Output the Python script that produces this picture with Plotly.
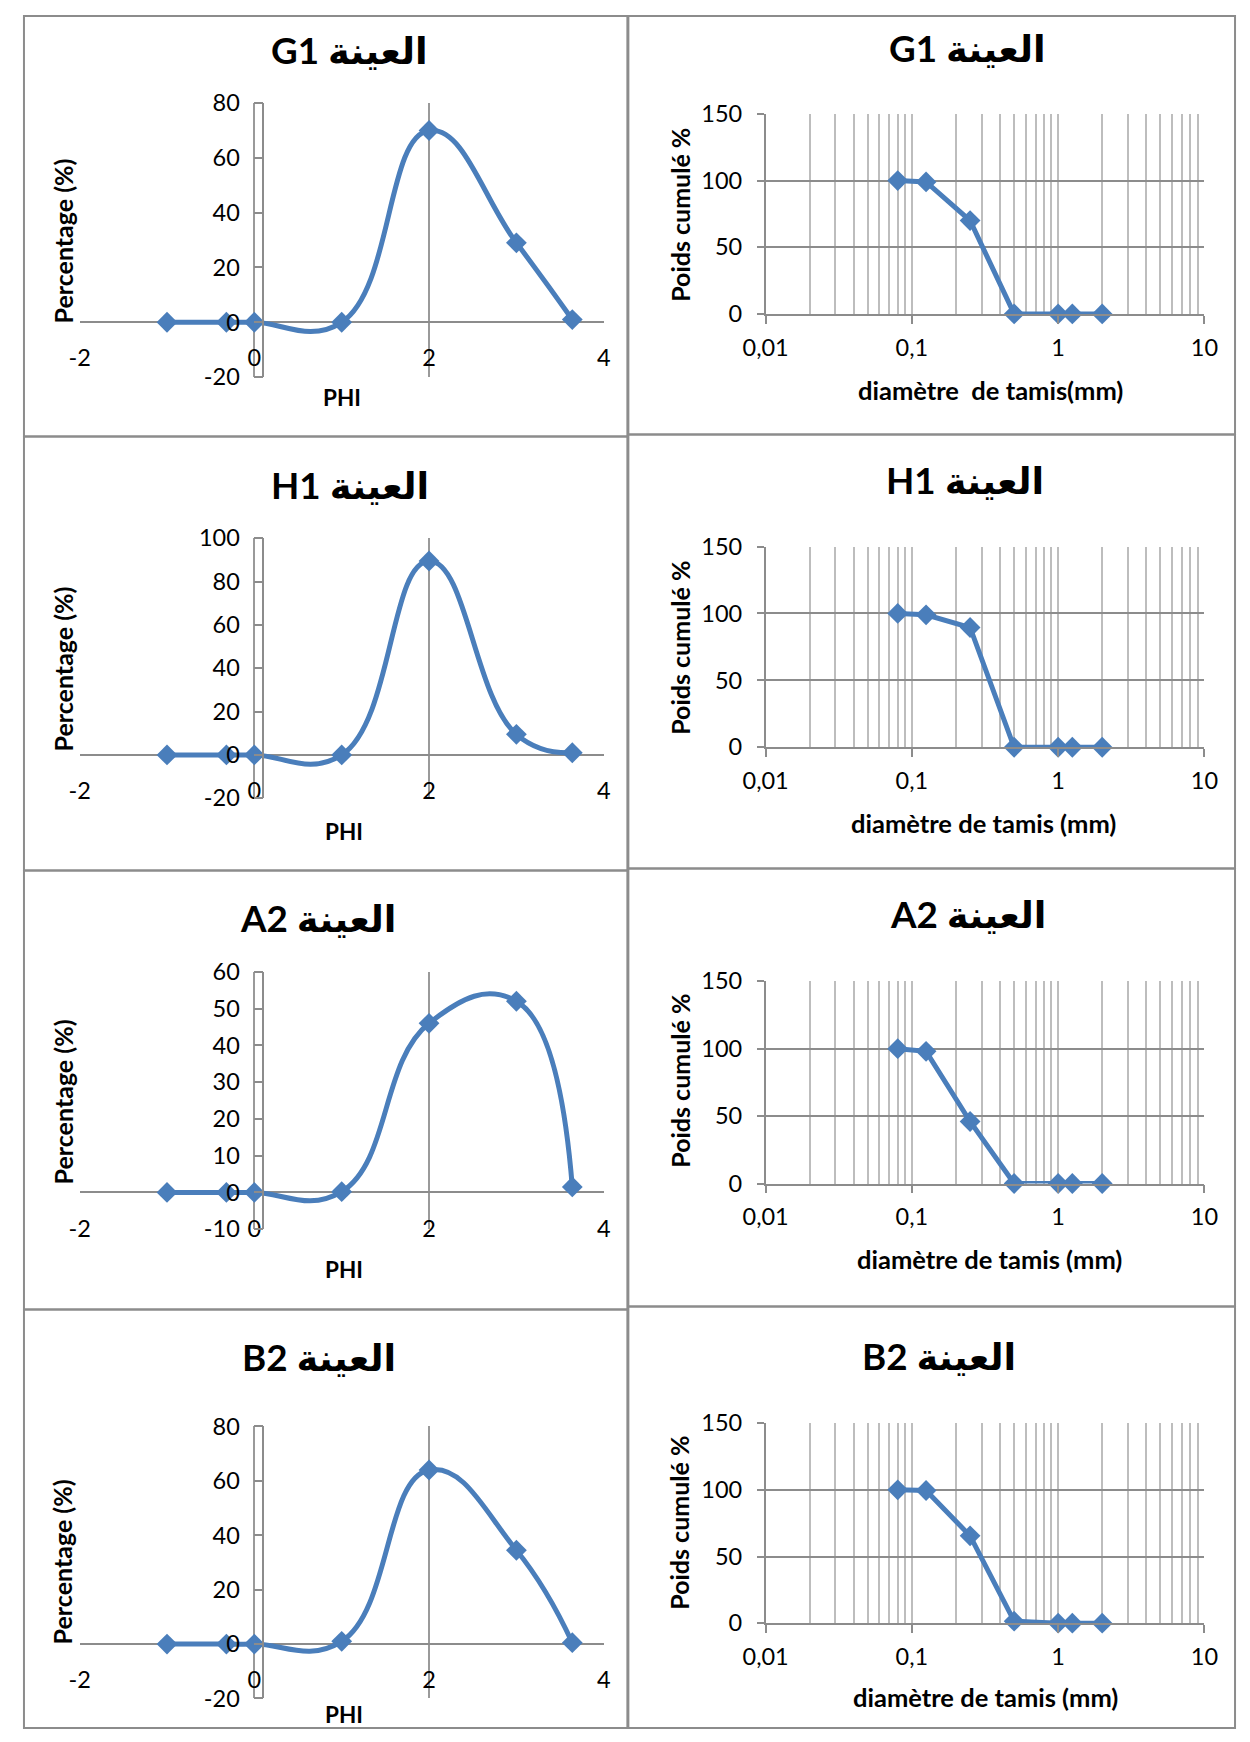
import plotly.graph_objects as go

W, H = 1250, 1742
# observed mapping of the photographed page: photo = A + K * figure pixel
AX, KX = 21.0, 0.973
AY, KY = 14.4, 0.984
FS = 1.0 / ((KX + KY) / 2)

# ---------------- data ----------------
samples = ["G1", "H1", "A2", "B2"]
phi = [-1, -0.32, 0, 1, 2, 3, 3.64]
sieve_mm = [0.08, 0.125, 0.25, 0.5, 1, 1.25, 2]

pct_G1 = [0, 0, 0, 0, 70, 29, 1]
pct_H1 = [0, 0, 0, 0, 89.5, 9.5, 1]
pct_A2 = [0, 0, 0, 0.2, 46, 52, 1.5]
pct_B2 = [0, 0, 0, 1, 64, 34.5, 0.5]

cum_G1 = [100, 99, 70, 0, 0, 0, 0]
cum_H1 = [100, 99, 89.5, 0, 0, 0, 0]
cum_A2 = [100, 98, 46, 0, 0, 0, 0]
cum_B2 = [100, 99.5, 65.5, 1.5, 0, 0, 0]

phi_ticks = [-2, 0, 2, 4]
phi_ticktext = ["-2", "0", "2", "4"]
left_yticks = [[-20, 0, 20, 40, 60, 80],
               [-20, 0, 20, 40, 60, 80, 100],
               [-10, 0, 10, 20, 30, 40, 50, 60],
               [-20, 0, 20, 40, 60, 80]]
left_ytext = [["-20", "0", "20", "40", "60", "80"],
              ["-20", "0", "20", "40", "60", "80", "100"],
              ["-10", "0", "10", "20", "30", "40", "50", "60"],
              ["-20", "0", "20", "40", "60", "80"]]
cum_ticks = [0, 50, 100, 150]
log_ticks = [0.01, 0.1, 1, 10]
log_ticktext = ["0,01", "0,1", "1", "10"]
right_xtitles = ["diamètre  de tamis(mm)", "diamètre de tamis (mm)",
                 "diamètre de tamis (mm)", "diamètre de tamis (mm)"]

pcts = [pct_G1, pct_H1, pct_A2, pct_B2]
cums = [cum_G1, cum_H1, cum_A2, cum_B2]

# ---------------- target geometry (pixels in the picture) ----------------
L_X = (77.8, 603.3)
L_Y = [(102.5, 376.5), (537.7, 797.7), (971.3, 1228.7), (1426.0, 1698.0)]
R_X = (765.6, 1205.6)
R_Y = [(113.3, 313.3), (546.0, 746.7), (980.7, 1183.0), (1422.7, 1622.7)]

title_pos_L = [(348, 49), (349, 484), (317, 917), (318, 1357)]
title_pos_R = [(968, 47), (966, 479), (969, 913), (939, 1356)]
ytitle_L = [(61, 240), (61, 668), (61, 1101), (61, 1561)]
ytitle_R = [(679, 214), (679, 647), (679, 1080), (679, 1522)]
xtitle_L = [(341, 397), (343, 831), (343, 1269), (343, 1714)]
xtitle_R = [(991, 389), (984, 822), (990, 1258), (986, 1697)]

BLUE = "#4A7EBB"
GRID_V = "#BDBDBD"
GRID_H = "#8C8C8C"
AXIS = "#8C8C8C"
FONT = "Lato, 'DejaVu Sans', sans-serif"

def fx(t):
    return (t - AX) / KX

def fy(t):
    return (t - AY) / KY

def px(t):
    return min(1.0, max(0.0, fx(t) / W))

def py(t):
    return min(1.0, max(0.0, 1 - fy(t) / H))

def f(s):
    return round(s * FS, 1)

fig = go.Figure()
layout = dict(width=W, height=H, autosize=False,
              margin=dict(l=0, r=0, t=0, b=0, pad=0),
              paper_bgcolor="white", plot_bgcolor="rgba(0,0,0,0)",
              showlegend=False, font=dict(family=FONT, size=f(23), color="black"))
annotations = []
shapes = []

for i, s in enumerate(samples):
    li = 2 * i + 1
    ri = 2 * i + 2
    ymin, ymax = left_yticks[i][0], left_yticks[i][-1]
    top, bot = L_Y[i]
    y0_t = top + (ymax - 0) / (ymax - ymin) * (bot - top)
    x0_t = L_X[0] + (0 - (-2)) / 6 * (L_X[1] - L_X[0])

    fig.add_trace(go.Scatter(
        x=phi, y=pcts[i], mode="lines+markers",
        line=dict(color=BLUE, width=5, shape="spline", smoothing=1.3),
        marker=dict(symbol="diamond", size=16, color=BLUE),
        xaxis=f"x{li}", yaxis=f"y{li}", cliponaxis=False))

    layout[f"xaxis{li}"] = dict(
        domain=[px(L_X[0]), px(L_X[1])], range=[-2, 4],
        tickvals=phi_ticks, ticktext=phi_ticktext,
        showgrid=True, gridcolor="#9A9A9A", gridwidth=1.5,
        zeroline=False, showline=False, anchor="free", position=py(y0_t),
        ticks="outside", ticklen=15, tickcolor="rgba(0,0,0,0)",
        tickfont=dict(size=f(23)), fixedrange=True)
    layout[f"yaxis{li}"] = dict(
        domain=[py(bot), py(top)], range=[ymin, ymax],
        tickvals=left_yticks[i], ticktext=left_ytext[i],
        showgrid=False, zeroline=True, zerolinecolor=AXIS, zerolinewidth=1.5,
        showline=True, linecolor=AXIS, linewidth=1.5,
        anchor="free", position=px(x0_t + 9),
        ticks="outside", ticklen=9, tickcolor=AXIS, tickwidth=1.5,
        ticklabelstandoff=9, tickfont=dict(size=f(23)), fixedrange=True)

    rtop, rbot = R_Y[i]
    fig.add_trace(go.Scatter(
        x=sieve_mm, y=cums[i], mode="lines+markers",
        line=dict(color=BLUE, width=5),
        marker=dict(symbol="diamond", size=16, color=BLUE),
        xaxis=f"x{ri}", yaxis=f"y{ri}", cliponaxis=False))
    layout[f"xaxis{ri}"] = dict(
        domain=[px(R_X[0]), px(R_X[1])], type="log", range=[-2, 1],
        tickvals=log_ticks, ticktext=log_ticktext,
        showgrid=True, gridcolor=GRID_V, gridwidth=1.5,
        minor=dict(dtick="D1", showgrid=True, gridcolor=GRID_V, gridwidth=1.5, ticks=""),
        showline=True, linecolor=AXIS, linewidth=1.5, anchor=f"y{ri}",
        ticks="outside", ticklen=8, tickcolor=AXIS, tickwidth=1.5,
        ticklabelstandoff=4, tickfont=dict(size=f(23)), fixedrange=True)
    layout[f"yaxis{ri}"] = dict(
        domain=[py(rbot), py(rtop)], range=[0, 150], tickvals=cum_ticks,
        showgrid=True, gridcolor=GRID_H, gridwidth=1.5, zeroline=False,
        showline=True, linecolor=AXIS, linewidth=1.5, anchor=f"x{ri}",
        ticks="outside", ticklen=7, tickcolor=AXIS, tickwidth=1.5,
        ticklabelstandoff=10, tickfont=dict(size=f(23)), fixedrange=True)

    title_text = f"{s} العينة"
    for (tx, ty) in (title_pos_L[i], title_pos_R[i]):
        annotations.append(dict(text=f"<b>{title_text}</b>", x=px(tx), y=py(ty),
                                xref="paper", yref="paper", showarrow=False,
                                xanchor="center", yanchor="middle",
                                font=dict(family=FONT, size=f(36), color="black")))
    annotations.append(dict(text="<b>Percentage (%)</b>", x=px(ytitle_L[i][0]), y=py(ytitle_L[i][1]),
                            xref="paper", yref="paper", showarrow=False, textangle=-90,
                            xanchor="center", yanchor="middle",
                            font=dict(family=FONT, size=f(24.5), color="black")))
    annotations.append(dict(text="<b>Poids cumulé %</b>", x=px(ytitle_R[i][0]), y=py(ytitle_R[i][1]),
                            xref="paper", yref="paper", showarrow=False, textangle=-90,
                            xanchor="center", yanchor="middle",
                            font=dict(family=FONT, size=f(24.5), color="black")))
    annotations.append(dict(text="<b>PHI</b>", x=px(xtitle_L[i][0]), y=py(xtitle_L[i][1]),
                            xref="paper", yref="paper", showarrow=False,
                            xanchor="center", yanchor="middle",
                            font=dict(family=FONT, size=f(22), color="black")))
    annotations.append(dict(text=f"<b>{right_xtitles[i]}</b>", x=px(xtitle_R[i][0]), y=py(xtitle_R[i][1]),
                            xref="paper", yref="paper", showarrow=False,
                            xanchor="center", yanchor="middle",
                            font=dict(family=FONT, size=f(25), color="black")))

# panel borders
left_rows = [(2, 436), (436, 870), (870, 1309), (1309, 1741)]
right_rows = [(1, 434), (434, 868), (868, 1306), (1306, 1741)]
EDGE_L, EDGE_R, EDGE_T, EDGE_B = 1 / W, 1 - 1 / W, 1 - 1 / H, 1 / H
for (a, b) in left_rows:
    shapes.append(dict(type="rect", xref="paper", yref="paper",
                       x0=max(px(5), EDGE_L), x1=px(627),
                       y0=max(py(b), EDGE_B), y1=min(py(a), EDGE_T),
                       line=dict(color="#8C8C8C", width=2), layer="below"))
for (a, b) in right_rows:
    shapes.append(dict(type="rect", xref="paper", yref="paper",
                       x0=px(628), x1=min(px(1248), EDGE_R),
                       y0=max(py(b), EDGE_B), y1=min(py(a), EDGE_T),
                       line=dict(color="#8C8C8C", width=2), layer="below"))

layout["annotations"] = annotations
layout["shapes"] = shapes
fig.update_layout(**layout)
fig.write_html("out.html")
